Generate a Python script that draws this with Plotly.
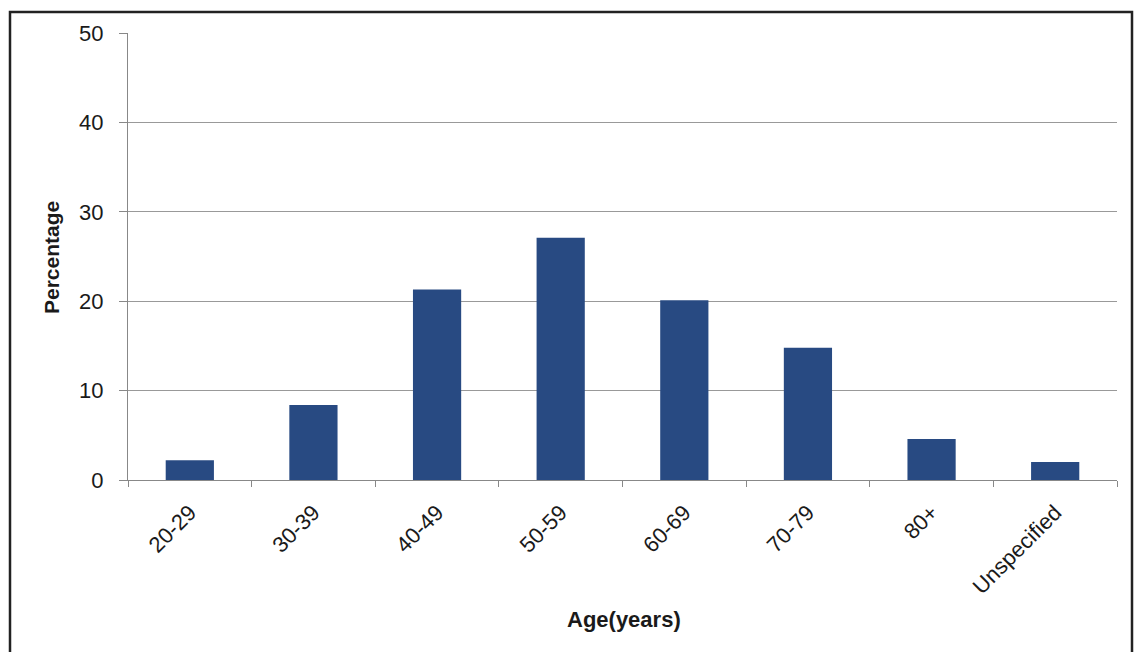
import plotly.graph_objects as go

categories = ["20-29", "30-39", "40-49", "50-59", "60-69", "70-79", "80+", "Unspecified"]
percentages = [2.2, 8.4, 21.3, 27.1, 20.1, 14.8, 4.6, 2.0]
y_ticks = [0, 10, 20, 30, 40, 50]

W, H = 1135, 652
L, R, T, B = 128, 18, 33, 172
pw, ph = W - L - R, H - T - B

fig = go.Figure(go.Bar(x=categories, y=percentages, marker=dict(color="#284a82", line=dict(width=0)),
                       width=0.39))

def px2paper_x(px):
    return (px - L) / pw

def px2paper_y(py):
    return 1 - (py - T) / ph

fig.add_shape(type="path", xref="paper", yref="paper",
              path=f"M {px2paper_x(10)} {px2paper_y(700)} L {px2paper_x(10)} {px2paper_y(12)} L {px2paper_x(1132)} {px2paper_y(12)} L {px2paper_x(1132)} {px2paper_y(700)}",
              line=dict(color="#222", width=2.5))

fig.add_annotation(text="Age(years)", xref="paper", yref="paper",
                   x=px2paper_x(624), y=px2paper_y(619), showarrow=False,
                   font=dict(size=22, weight="bold"), xanchor="center", yanchor="middle")
fig.add_annotation(text="Percentage", xref="paper", yref="paper",
                   x=px2paper_x(51), y=px2paper_y(258), showarrow=False, textangle=-90,
                   font=dict(size=21, weight="bold"), xanchor="center", yanchor="middle")

fig.update_layout(
    width=W, height=H,
    margin=dict(l=L, r=R, t=T, b=B),
    paper_bgcolor="white", plot_bgcolor="white",
    font=dict(family="Liberation Sans, Arial, sans-serif", color="#1a1a1a"),
    showlegend=False,
    xaxis=dict(
        type="category", tickson="boundaries", ticks="outside", ticklen=6, tickcolor="#888",
        showline=True, linecolor="#888", linewidth=1, showgrid=False,
        tickangle=-45, tickfont=dict(size=22), ticklabelstandoff=10,
        range=[-0.5, 7.5],
    ),
    yaxis=dict(
        range=[0, 50], tickvals=y_ticks, ticks="outside", ticklen=8, tickcolor="#888",
        showline=True, linecolor="#888", linewidth=1,
        showgrid=True, gridcolor="#999999", gridwidth=1, zeroline=False,
        tickfont=dict(size=22), ticklabelstandoff=11,
    ),
)

fig.write_html("out.html")
